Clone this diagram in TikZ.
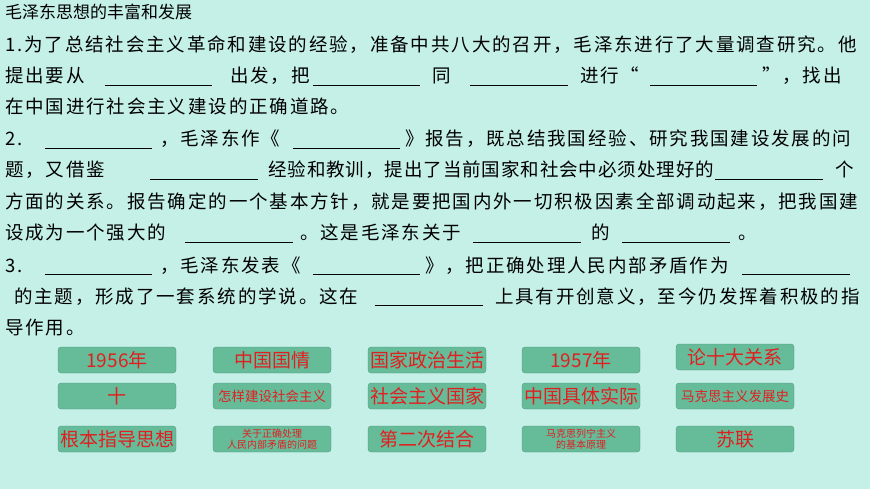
\documentclass[tikz,border=0pt]{standalone}
\usepackage{fontspec}
\newfontfamily\cjk{Noto Sans CJK SC}
\newfontfamily\cjks[LetterSpace=10]{Noto Sans CJK SC}
\newfontfamily\cjkm[LetterSpace=5]{Noto Sans CJK SC}
\definecolor{bgc}{HTML}{C5F0E8}
\definecolor{btn}{HTML}{66BB99}
\definecolor{btxt}{HTML}{E02020}
\begin{document}
\begin{tikzpicture}[x=1pt,y=-1pt,
  tx/.style={anchor=base west,inner sep=0pt,font=\cjks\fontsize{18.5}{20}\selectfont},
  bl/.style={line width=0.7pt},
  bt/.style={draw=btn!80!black,line width=0.3pt,fill=btn,rounded corners=3pt,minimum width=118pt,minimum height=26pt,inner sep=0pt,text=btxt,font=\cjk\fontsize{19}{21}\selectfont,align=center},
  sm/.style={font=\cjk\fontsize{13.5}{15}\selectfont},
  xs/.style={font=\cjk\fontsize{10}{11}\selectfont}]
\fill[bgc] (0,0) rectangle (870,489);
\useasboundingbox (0,0) rectangle (870,489);
\node[tx,font=\cjk\fontsize{17}{19}\selectfont] (t0) at (5,19) {毛泽东思想的丰富和发展};
% line 1
\node[tx] (a1) at (5,52) {1.为了总结社会主义革命和建设的经验，准备中共八大的召开，毛泽东进行了大量调查研究。他};
\node[tx] (a2) at (5,83) {提出要从};
\node[tx] (a3) at (230,83) {出发，把};
\node[tx] (a4) at (432,83) {同};
\node[tx] (a5) at (580,83) {进行“};
\node[tx] (a6) at (762,83) {”，找出};
\draw[bl] (105,85)--(212,85) (313,85)--(420,85) (470,85)--(568,85) (650,85)--(757,85);
\node[tx] (a7) at (5,114) {在中国进行社会主义建设的正确道路。};
% line 2
\node[tx] (b1) at (5,146) {2.};
\node[tx] (b2) at (160,146) {，毛泽东作《};
\node[tx] (b3) at (405,146) {》报告，既总结我国经验、研究我国建设发展的问};
\draw[bl] (45,148)--(152,148) (293,148)--(400,148);
\node[tx] (b4) at (5,177) {题，又借鉴};
\node[tx,font=\cjkm\fontsize{18.5}{20}\selectfont] (b5) at (268,177) {经验和教训，提出了当前国家和社会中必须处理好的};
\node[tx] (b6) at (835,177) {个};
\draw[bl] (150,179)--(258,179) (715,179)--(823,179);
\node[tx] (b7) at (5,209) {方面的关系。报告确定的一个基本方针，就是要把国内外一切积极因素全部调动起来，把我国建};
\node[tx] (b8) at (5,240) {设成为一个强大的};
\node[tx] (b9) at (300,240) {。这是毛泽东关于};
\node[tx] (b10) at (591,240) {的};
\node[tx] (b11) at (738,240) {。};
\draw[bl] (185,242)--(293,242) (473,242)--(581,242) (622,242)--(730,242);
% line 3
\node[tx] (c1) at (5,272) {3.};
\node[tx] (c2) at (160,272) {，毛泽东发表《};
\node[tx] (c3) at (425,272) {》，把正确处理人民内部矛盾作为};
\draw[bl] (45,274)--(152,274) (313,274)--(420,274) (742,274)--(850,274);
\node[tx] (c4) at (14,303) {的主题，形成了一套系统的学说。这在};
\node[tx] (c5) at (495,303) {上具有开创意义，至今仍发挥着积极的指};
\draw[bl] (375,305)--(483,305);
\node[tx] (c6) at (5,334) {导作用。};
% buttons
\node[bt] (k1) at (117,360) {1956年};
\node[bt] (k2) at (272,360) {中国国情};
\node[bt] (k3) at (427,360) {国家政治生活};
\node[bt] (k4) at (581,360) {1957年};
\node[bt] (k5) at (735,357) {论十大关系};
\node[bt] (k6) at (117,396) {十};
\node[bt,sm] (k7) at (272,396) {怎样建设社会主义};
\node[bt] (k8) at (427,396) {社会主义国家};
\node[bt] (k9) at (581,396) {中国具体实际};
\node[bt,sm] (k10) at (735,396) {马克思主义发展史};
\node[bt] (k11) at (117,439) {根本指导思想};
\node[bt,xs] (k12) at (272,439) {关于正确处理\\人民内部矛盾的问题};
\node[bt] (k13) at (427,439) {第二次结合};
\node[bt,xs] (k14) at (581,439) {马克思列宁主义\\的基本原理};
\node[bt] (k15) at (735,439) {苏联};
\end{tikzpicture}
\end{document}
